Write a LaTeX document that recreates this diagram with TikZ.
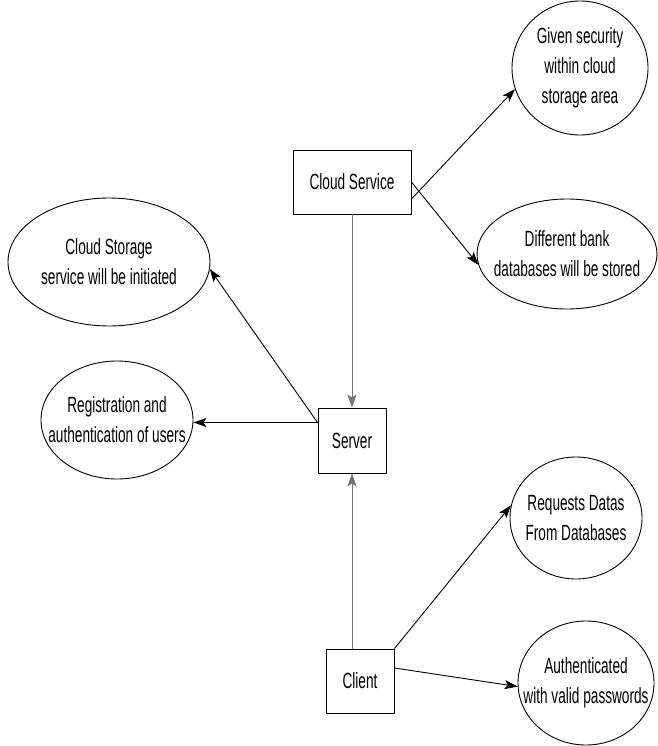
\documentclass[tikz,border=0pt]{standalone}
\usepackage{fontspec}
\setmainfont{Liberation Sans}[FakeStretch=0.62]
\usetikzlibrary{shapes.geometric,arrows.meta,calc}
\begin{document}
\begin{tikzpicture}[x=1pt,y=-1pt,
  every node/.style={font=\fontsize{22}{30}\selectfont, align=center, inner sep=0pt},
  boxnode/.style={draw, line width=0.9pt, rectangle},
  ellnode/.style={draw, line width=0.9pt, ellipse},
  arr/.style={line width=0.9pt, -{Stealth[length=13pt,width=9pt,inset=3pt]}},
  grayarr/.style={line width=0.9pt, draw=black!55, -{Stealth[length=13pt,width=9pt,inset=3pt]}}
]
\useasboundingbox (0,0) rectangle (657,746);

% boxes
\node[boxnode, minimum width=118pt, minimum height=64pt] (cs) at (352,182) {Cloud Service};
\node[boxnode, minimum width=68pt, minimum height=65pt] (sv) at (352,440.5) {Server};
\node[boxnode, minimum width=68pt, minimum height=64pt] (cl) at (360,681) {Client};

% ellipses (outline) and their texts
\node[ellnode, minimum width=136pt, minimum height=134pt] (gs) at (580,68) {};
\node (gst) at (gs.center) {Given security\\within cloud\\storage area};
\node[ellnode, minimum width=180pt, minimum height=110pt] (db) at (567,254) {};
\node (dbt) at (db.center) {Different bank\\databases will be stored};
\node[ellnode, minimum width=202pt, minimum height=128pt] (st) at (109,262) {};
\node (stt) at (st.center) {Cloud Storage\\service will be initiated};
\node[ellnode, minimum width=152pt, minimum height=118pt] (rg) at (117,420) {};
\node (rgt) at (rg.center) {Registration and\\authentication of users};
\node[ellnode, minimum width=132pt, minimum height=122pt] (rq) at (576,518) {};
\node (rqt) at (rq.center) {Requests Datas\\From Databases};
\node[ellnode, minimum width=136pt, minimum height=124pt] (au) at (586,683) {};
\node (aut) at (au.center) {Authenticated\\with valid passwords};

% connectors
\coordinate (csa) at ($(cs.east)+(0,17)$);
\draw[arr] (csa) -- (gs.198);
\draw[arr] (cs.east) -- (db.187);
\draw[grayarr] (cs.south) -- (sv.north);

\coordinate (sva) at ($(sv.west)+(0,-18)$);
\draw[arr] (sva) -- (st.356);
\draw[arr] (sva) -- (sva -| rg.east);

\coordinate (clt) at (sv.south |- cl.north);
\draw[grayarr] (clt) -- (sv.south);
\draw[arr] (cl.north east) -- (rq.169);
\coordinate (cle) at ($(cl.east)+(0,-13)$);
\draw[arr] (cle) -- (au.183);
\end{tikzpicture}
\end{document}
